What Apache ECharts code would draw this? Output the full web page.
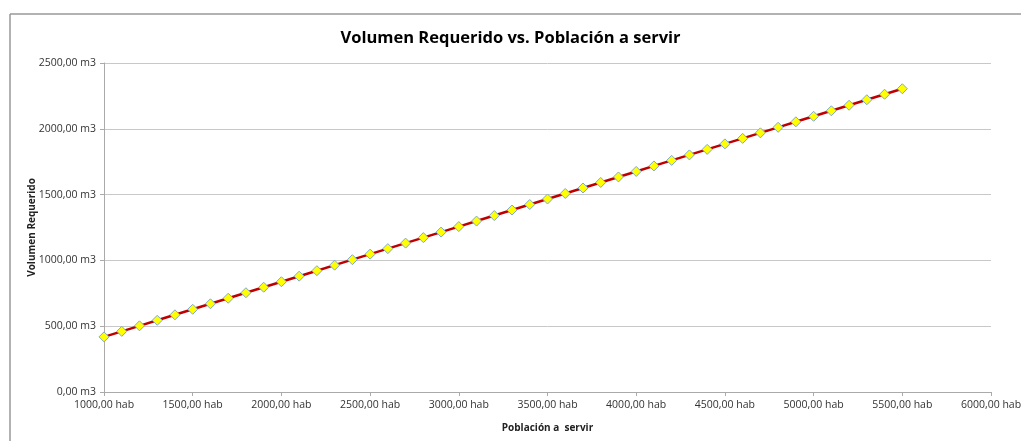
<!DOCTYPE html>
<html>
<head>
<meta charset="utf-8">
<script src="https://cdn.jsdelivr.net/npm/echarts@6/dist/echarts.min.js"></script>
<style>
  html, body { margin: 0; padding: 0; background: #fff; }
  #chart { width: 1021px; height: 441px; }
</style>
</head>
<body>
<div id="chart"></div>
<script>
// Población a servir (hab)
const poblacion = [
  1000, 1100, 1200, 1300, 1400, 1500, 1600, 1700, 1800, 1900,
  2000, 2100, 2200, 2300, 2400, 2500, 2600, 2700, 2800, 2900,
  3000, 3100, 3200, 3300, 3400, 3500, 3600, 3700, 3800, 3900,
  4000, 4100, 4200, 4300, 4400, 4500, 4600, 4700, 4800, 4900,
  5000, 5100, 5200, 5300, 5400, 5500
];
// Volumen requerido (m3)
const volumen = [
  419.0, 460.9, 502.8, 544.7, 586.6, 628.5, 670.4, 712.3, 754.2, 796.1,
  838.0, 879.9, 921.8, 963.7, 1005.6, 1047.5, 1089.4, 1131.3, 1173.2, 1215.1,
  1257.0, 1298.9, 1340.8, 1382.7, 1424.6, 1466.5, 1508.4, 1550.3, 1592.2, 1634.1,
  1676.0, 1717.9, 1759.8, 1801.7, 1843.6, 1885.5, 1927.4, 1969.3, 2011.2, 2053.1,
  2095.0, 2136.9, 2178.8, 2220.7, 2262.6, 2304.5
];

const fmt = (v) => v.toFixed(2).replace(".", ",");

const chart = echarts.init(document.getElementById("chart"));

const option = {
  animation: false,
  textStyle: { fontFamily: "Open Sans, sans-serif" },
  title: {
    text: "Volumen Requerido vs. Población a servir",
    left: "center",
    top: 25,
    textStyle: { fontSize: 16.5, fontWeight: "bold", color: "#000", fontFamily: "Open Sans, sans-serif" },
  },
  graphic: [
    // marco exterior (solo borde superior e izquierdo visibles)
    { type: "line", shape: { x1: 10, y1: 14, x2: 1021, y2: 14 }, style: { stroke: "#999", lineWidth: 1.5 } },
    { type: "line", shape: { x1: 10, y1: 14, x2: 10, y2: 441 }, style: { stroke: "#999", lineWidth: 1.5 } },
  ],
  grid: { left: 104, right: 30, top: 63, bottom: 49, outerBoundsMode: "none" },
  xAxis: {
    type: "value",
    min: 1000,
    max: 6000,
    interval: 500,
    name: "Población a  servir",
    nameLocation: "middle",
    nameGap: 31,
    nameMoveOverlap: false,
    nameTextStyle: { fontSize: 10, fontWeight: "bold", color: "#222" },
    axisLine: { lineStyle: { color: "#aaa" } },
    axisTick: { show: true, length: 4, lineStyle: { color: "#aaa" } },
    axisLabel: { color: "#333", fontSize: 10.5, margin: 8, formatter: (v) => fmt(v) + " hab" },
    splitLine: { show: false },
  },
  yAxis: {
    type: "value",
    min: 0,
    max: 2500,
    interval: 500,
    name: "Volumen Requerido",
    nameLocation: "middle",
    nameGap: 67,
    nameMoveOverlap: false,
    nameTextStyle: { fontSize: 10, fontWeight: "bold", color: "#222" },
    axisLine: { show: true, lineStyle: { color: "#aaa" } },
    axisTick: { show: true, length: 4, lineStyle: { color: "#aaa" } },
    axisLabel: { color: "#333", fontSize: 10.5, margin: 8, formatter: (v) => fmt(v) + " m3" },
    splitLine: { lineStyle: { color: "#c8c8c8" } },
  },
  series: [
    {
      type: "line",
      data: poblacion.map((p, i) => [p, volumen[i]]),
      symbol: "diamond",
      symbolSize: 10,
      lineStyle: { color: "#c00000", width: 2.5 },
      itemStyle: { color: "#ffff00", borderColor: "#7fa7d0", borderWidth: 1 },
    },
  ],
};

chart.setOption(option);
</script>
</body>
</html>
